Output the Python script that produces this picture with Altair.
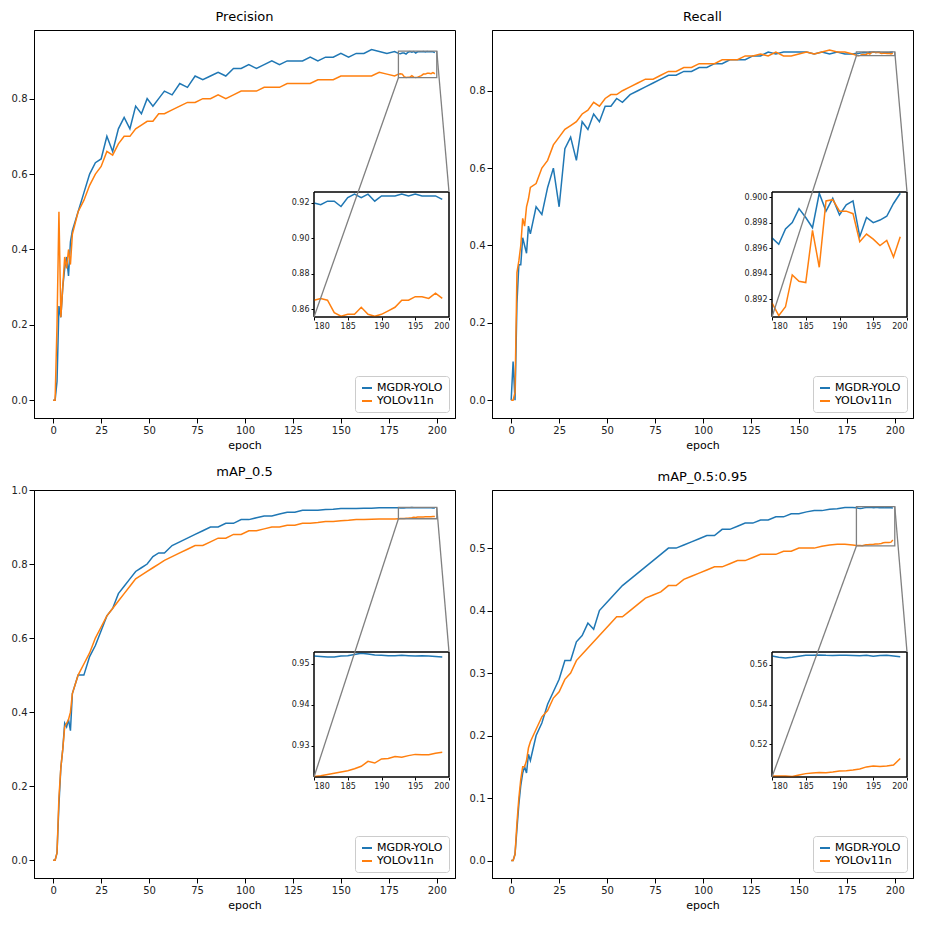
import altair as alt
import pandas as pd

EPOCHS = list(range(0, 11)) + list(range(13, 59, 3)) + list(range(62, 179, 4)) + list(range(180, 200))
MODELS = ["MGDR-YOLO", "YOLOv11n"]
COLORS = ["#1f77b4", "#ff7f0e"]

prec_blue = [0, 0.0, 0.05, 0.25, 0.22, 0.3, 0.35, 0.38, 0.33, 0.42, 0.45,
             0.5, 0.55, 0.6, 0.63, 0.64, 0.7, 0.66, 0.72, 0.75, 0.72, 0.78, 0.76, 0.8, 0.78, 0.8, 0.82,
             0.81, 0.84, 0.83, 0.86, 0.85, 0.86, 0.87, 0.86, 0.88, 0.88, 0.89, 0.88, 0.89, 0.9, 0.89, 0.9, 0.9, 0.9,
             0.91, 0.9, 0.91, 0.91, 0.92, 0.91, 0.92, 0.92, 0.93, 0.925, 0.92, 0.925,
             0.920, 0.919, 0.921, 0.921, 0.918, 0.923, 0.925, 0.923, 0.925, 0.921, 0.924, 0.924, 0.924, 0.925,
             0.924, 0.925, 0.924, 0.924, 0.924, 0.922]
prec_orange = [0, 0.0, 0.2, 0.5, 0.22, 0.3, 0.38, 0.35, 0.4, 0.36, 0.44,
               0.5, 0.53, 0.57, 0.6, 0.62, 0.66, 0.65, 0.68, 0.7, 0.7, 0.72, 0.73, 0.74, 0.74, 0.76, 0.76,
               0.77, 0.78, 0.79, 0.79, 0.8, 0.8, 0.81, 0.8, 0.81, 0.82, 0.82, 0.82, 0.83, 0.83, 0.83, 0.84, 0.84, 0.84,
               0.84, 0.85, 0.85, 0.85, 0.86, 0.86, 0.86, 0.86, 0.86, 0.87, 0.865, 0.86,
               0.865, 0.866, 0.865, 0.858, 0.856, 0.857, 0.857, 0.861, 0.857, 0.856, 0.857, 0.859, 0.861, 0.865,
               0.865, 0.867, 0.867, 0.866, 0.869, 0.866]
rec_blue = [0, 0.1, 0.0, 0.25, 0.35, 0.35, 0.42, 0.4, 0.38, 0.45, 0.43,
            0.5, 0.48, 0.55, 0.6, 0.5, 0.65, 0.68, 0.62, 0.72, 0.7, 0.74, 0.72, 0.76, 0.76, 0.78, 0.77,
            0.79, 0.8, 0.81, 0.82, 0.83, 0.84, 0.84, 0.85, 0.85, 0.86, 0.86, 0.87, 0.87, 0.88, 0.88, 0.88, 0.89, 0.89,
            0.9, 0.895, 0.9, 0.9, 0.9, 0.9, 0.895, 0.9, 0.895, 0.9, 0.895, 0.895,
            0.8968, 0.8963, 0.8975, 0.898, 0.8991, 0.8984, 0.8976, 0.9003, 0.8989, 0.8999, 0.8986, 0.8994, 0.8997,
            0.8969, 0.8984, 0.898, 0.8982, 0.8985, 0.8995, 0.9003]
rec_orange = [0, 0, 0.02, 0.33, 0.36, 0.4, 0.47, 0.45, 0.5, 0.52, 0.55,
              0.56, 0.6, 0.62, 0.66, 0.68, 0.7, 0.71, 0.72, 0.74, 0.75, 0.77, 0.76, 0.78, 0.79, 0.79, 0.8,
              0.81, 0.82, 0.83, 0.83, 0.84, 0.85, 0.85, 0.86, 0.86, 0.87, 0.87, 0.87, 0.88, 0.88, 0.88, 0.89, 0.89, 0.895,
              0.89, 0.9, 0.89, 0.89, 0.895, 0.9, 0.895, 0.9, 0.905, 0.9, 0.9, 0.895,
              0.8917, 0.8907, 0.8914, 0.8939, 0.8934, 0.8933, 0.8974, 0.8945, 0.8997, 0.8998, 0.8989, 0.8989, 0.8987,
              0.8965, 0.8971, 0.8967, 0.8962, 0.8966, 0.8953, 0.8969]
map5_blue = [0, 0.0, 0.02, 0.15, 0.25, 0.3, 0.37, 0.36, 0.38, 0.35, 0.45,
             0.5, 0.5, 0.55, 0.58, 0.62, 0.66, 0.68, 0.72, 0.74, 0.76, 0.78, 0.79, 0.8, 0.82, 0.83, 0.83,
             0.85, 0.86, 0.87, 0.88, 0.89, 0.9, 0.9, 0.91, 0.91, 0.92, 0.92, 0.925, 0.93, 0.93, 0.935, 0.94, 0.94, 0.945,
             0.945, 0.945, 0.947, 0.948, 0.95, 0.95, 0.95, 0.951, 0.951, 0.952, 0.952, 0.952,
             0.9518, 0.9517, 0.9516, 0.9516, 0.9518, 0.9519, 0.9522, 0.9525, 0.9523, 0.9521, 0.9520, 0.9519, 0.9519,
             0.9520, 0.9519, 0.9518, 0.9519, 0.9518, 0.9517, 0.9516]
map5_orange = [0, 0, 0.02, 0.17, 0.25, 0.3, 0.36, 0.37, 0.38, 0.4, 0.45,
               0.5, 0.53, 0.56, 0.6, 0.63, 0.66, 0.68, 0.7, 0.72, 0.74, 0.76, 0.77, 0.78, 0.79, 0.8, 0.81,
               0.82, 0.83, 0.84, 0.85, 0.85, 0.86, 0.87, 0.87, 0.88, 0.88, 0.89, 0.89, 0.895, 0.9, 0.9, 0.905, 0.905, 0.91,
               0.91, 0.912, 0.915, 0.915, 0.917, 0.918, 0.92, 0.92, 0.921, 0.922, 0.922, 0.922,
               0.9225, 0.9227, 0.9230, 0.9233, 0.9236, 0.9239, 0.9244, 0.9250, 0.9262, 0.9258, 0.9268, 0.9269, 0.9274,
               0.9272, 0.9276, 0.9279, 0.9278, 0.9278, 0.9282, 0.9284]
map95_blue = [0, 0, 0.01, 0.05, 0.09, 0.12, 0.14, 0.15, 0.14, 0.17, 0.16,
              0.2, 0.22, 0.25, 0.27, 0.29, 0.32, 0.32, 0.35, 0.36, 0.38, 0.37, 0.4, 0.41, 0.42, 0.43, 0.44,
              0.45, 0.46, 0.47, 0.48, 0.49, 0.5, 0.5, 0.505, 0.51, 0.515, 0.52, 0.52, 0.53, 0.53, 0.535, 0.54, 0.54, 0.545,
              0.545, 0.55, 0.55, 0.555, 0.555, 0.558, 0.56, 0.56, 0.562, 0.563, 0.565, 0.565,
              0.5645, 0.5638, 0.5635, 0.5638, 0.5644, 0.5648, 0.5648, 0.5650, 0.5648, 0.5647, 0.5649, 0.5648, 0.5647,
              0.5646, 0.5648, 0.5644, 0.5647, 0.5648, 0.5645, 0.5641]
map95_orange = [0, 0, 0.01, 0.06, 0.1, 0.13, 0.15, 0.15, 0.16, 0.18, 0.19,
                0.21, 0.23, 0.24, 0.26, 0.27, 0.29, 0.3, 0.32, 0.33, 0.34, 0.35, 0.36, 0.37, 0.38, 0.39, 0.39,
                0.4, 0.41, 0.42, 0.425, 0.43, 0.44, 0.44, 0.45, 0.455, 0.46, 0.465, 0.47, 0.47, 0.475, 0.48, 0.48, 0.485, 0.49,
                0.49, 0.49, 0.495, 0.495, 0.5, 0.5, 0.5, 0.503, 0.505, 0.506, 0.506, 0.505,
                0.5040, 0.5040, 0.5040, 0.5038, 0.5045, 0.5052, 0.5055, 0.5058, 0.5057, 0.5060, 0.5065, 0.5067, 0.5070,
                0.5075, 0.5086, 0.5090, 0.5088, 0.5090, 0.5095, 0.5128]

TITLES = ["Precision", "Recall", "mAP_0.5", "mAP_0.5:0.95"]
SERIES = [(prec_blue, prec_orange), (rec_blue, rec_orange), (map5_blue, map5_orange), (map95_blue, map95_orange)]
MAIN_Y = [[-0.047, 0.982], [-0.046, 0.957], [-0.048, 1.0], [-0.028, 0.593]]
INSET_Y = [[0.8555, 0.9262], [0.8906, 0.9004], [0.9224, 0.9528], [0.5035, 0.5665]]
INSET_TICKS = [[0.86, 0.88, 0.90, 0.92], [0.892, 0.894, 0.896, 0.898, 0.900], [0.93, 0.94, 0.95], [0.52, 0.54, 0.56]]
INSET_FMT = [".2f", ".3f", ".2f", ".2f"]
MAIN_TICKS = [[0, 0.2, 0.4, 0.6, 0.8], [0, 0.2, 0.4, 0.6, 0.8], [0, 0.2, 0.4, 0.6, 0.8, 1.0], [0, 0.1, 0.2, 0.3, 0.4, 0.5]]
MAIN_X = [-10, 209.5]
ZOOM_X = [180, 200]

W, H = 421, 388
IX0, IX1, IY0, IY1 = 280, 415, 162, 287  # inset box in plot pixels

color = alt.Color("model:N", scale=alt.Scale(domain=MODELS, range=COLORS),
                  legend=alt.Legend(title=None, orient="bottom-right", symbolType="stroke",
                                    strokeColor="#cccccc", padding=6, cornerRadius=3,
                                    fillColor="white", labelFontSize=11, symbolStrokeWidth=2,
                                    offset=6))


def panel(i):
    b, o = SERIES[i]
    assert len(b) == len(EPOCHS) and len(o) == len(EPOCHS)
    df = pd.DataFrame({"epoch": EPOCHS * 2, "value": b + o,
                       "model": [MODELS[0]] * len(EPOCHS) + [MODELS[1]] * len(EPOCHS)})
    dfi = df[df.epoch >= 180]
    yd = MAIN_Y[i]
    xs = alt.Scale(domain=MAIN_X, nice=False, zero=False)
    ys = alt.Scale(domain=yd, nice=False, zero=False)
    main = alt.Chart(df).mark_line(strokeWidth=1.5).encode(
        x=alt.X("epoch:Q", scale=xs, title="epoch",
                axis=alt.Axis(values=list(range(0, 201, 25)), grid=False)),
        y=alt.Y("value:Q", scale=ys, title=None,
                axis=alt.Axis(values=MAIN_TICKS[i], format=".1f", grid=False)),
        color=color)
    iy = INSET_Y[i]
    box_df = pd.DataFrame({"x": [ZOOM_X[0]], "x2": [ZOOM_X[1]], "y": [iy[0]], "y2": [iy[1]]})
    box = alt.Chart(box_df).mark_rect(fill=None, stroke="gray", strokeWidth=1.3).encode(
        x=alt.X("x:Q", scale=xs, axis=None), x2="x2:Q",
        y=alt.Y("y:Q", scale=ys, axis=None), y2="y2:Q")

    def px(v):
        return (v - MAIN_X[0]) / (MAIN_X[1] - MAIN_X[0]) * W

    def py(v):
        return H - (v - yd[0]) / (yd[1] - yd[0]) * H

    one = pd.DataFrame({"a": [0]})
    bg = alt.Chart(one).mark_rect(fill="white", stroke="black", strokeWidth=1).encode(
        x=alt.value(IX0), x2=alt.value(IX1), y=alt.value(IY0), y2=alt.value(IY1))
    inset = alt.Chart(dfi).mark_line(strokeWidth=1.5).encode(
        x=alt.X("epoch:Q", scale=alt.Scale(domain=ZOOM_X, range=[IX0, IX1], nice=False, zero=False), title=None,
                axis=alt.Axis(orient="bottom", offset=-(H - IY1), values=[180, 185, 190, 195, 200],
                              grid=False, labelFontSize=8, tickSize=3, domain=False)),
        y=alt.Y("value:Q", scale=alt.Scale(domain=iy, range=[IY1, IY0], nice=False, zero=False), title=None,
                axis=alt.Axis(orient="left", offset=-IX0, values=INSET_TICKS[i], format=INSET_FMT[i],
                              grid=False, labelFontSize=8, tickSize=3, domain=False)),
        color=color)
    frame = alt.Chart(one).mark_rect(fill=None, stroke="black", strokeWidth=1).encode(
        x=alt.value(IX0), x2=alt.value(IX1), y=alt.value(IY0), y2=alt.value(IY1))
    c1 = alt.Chart(one).mark_rule(color="gray", strokeWidth=1.3).encode(
        x=alt.value(IX0), y=alt.value(IY1), x2=alt.value(px(ZOOM_X[0])), y2=alt.value(py(iy[0])))
    c2 = alt.Chart(one).mark_rule(color="gray", strokeWidth=1.3).encode(
        x=alt.value(IX1), y=alt.value(IY0), x2=alt.value(px(ZOOM_X[1])), y2=alt.value(py(iy[1])))
    return alt.layer(main, box, bg, inset, frame, c1, c2).resolve_scale(
        x="independent", y="independent").properties(
        width=W, height=H, title=alt.Title(TITLES[i], fontSize=13, fontWeight="normal", offset=6))


top = alt.hconcat(panel(0), panel(1), spacing=12).resolve_scale(color="independent")
bottom = alt.hconcat(panel(2), panel(3), spacing=12).resolve_scale(color="independent")
chart = alt.vconcat(top, bottom, spacing=14).resolve_scale(color="independent").configure_view(
    stroke="black", strokeWidth=1).configure_axis(
    labelFont="DejaVu Sans", titleFont="DejaVu Sans", labelFontSize=10, titleFontSize=11,
    titleFontWeight="normal", domainColor="black", tickColor="black", labelColor="#222",
    titlePadding=4).configure_title(font="DejaVu Sans").configure_legend(labelFont="DejaVu Sans").properties(
    padding={"left": 2, "top": 2, "right": 2, "bottom": 2})
chart.save("out.html", embed_options={"renderer": "svg", "actions": False})
